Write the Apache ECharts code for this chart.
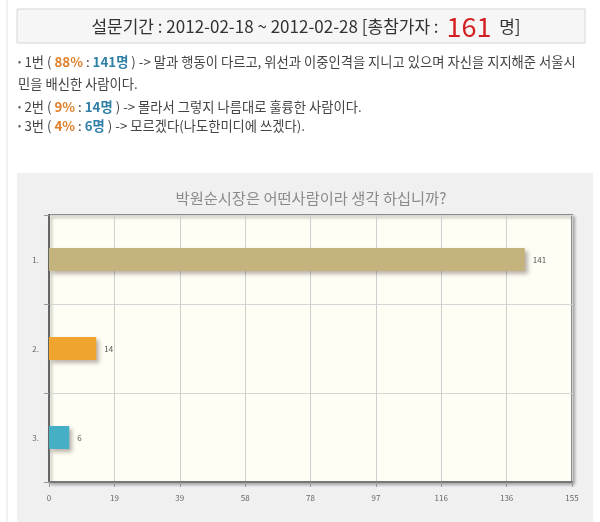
<!DOCTYPE html>
<html>
<head>
<meta charset="utf-8">
<script src="https://cdn.jsdelivr.net/npm/echarts@6/dist/echarts.min.js"></script>
<style>
  html, body { margin: 0; padding: 0; background: #fff; }
  #main { width: 600px; height: 522px; }
</style>
</head>
<body>
<div id="main"></div>
<script>
// 설문 데이터
const categories = ['1.', '2.', '3.'];
const votes = [141, 14, 6];
const percents = ['88%', '9%', '4%'];
const answers = [
  '말과 행동이 다르고, 위선과 이중인격을 지니고 있으며 자신을 지지해준 서울시\n민을 배신한 사람이다.',
  '몰라서 그렇지 나름대로 훌륭한 사람이다.',
  '모르겠다(나도한미디에 쓰겠다).'
];
const barColors = ['#c4b37c', '#efa42e', '#45afc6'];
const axisMax = 155;
const tickCount = 8;
const totalCount = 161;
const period = ['2012-02-18', '2012-02-28'];
const chartTitle = '박원순시장은 어떤사람이라 생각 하십니까?';

const FONT = '"Noto Sans CJK KR", "Noto Sans", sans-serif';

const chart = echarts.init(document.getElementById('main'));

// 상단 설명 텍스트
const bulletTexts = [];
const bulletY = [66, 111, 130];
const fs = 13.3;
for (let i = 0; i < votes.length; i++) {
  bulletTexts.push({
    type: 'text',
    left: 18,
    top: bulletY[i] - 11,
    style: {
      text: '{d|•} {t|' + (i + 1) + '번 ( }{p|' + percents[i] + '}{t| : }{n|' + votes[i] + '명}{t| ) -> ' +
        answers[i].replace('\n', '}\n{t|') + '}',
      rich: {
        d: { fontSize: 9, fill: '#555', fontFamily: FONT, lineHeight: 22 },
        t: { fontSize: fs, fill: '#444', fontFamily: FONT, lineHeight: 22 },
        p: { fontSize: fs, fill: '#e0802a', fontWeight: 'bold', fontFamily: FONT, lineHeight: 22 },
        n: { fontSize: fs, fill: '#2f7fa6', fontWeight: 'bold', fontFamily: FONT, lineHeight: 22 }
      }
    }
  });
}

chart.setOption({
  animation: false,
  backgroundColor: '#fff',
  title: {
    text: chartTitle,
    left: 306,
    top: 186,
    textAlign: 'center',
    textStyle: { fontSize: 15.3, fontWeight: 'normal', color: '#8a8a8a', fontFamily: FONT }
  },
  graphic: [
    { type: 'line', shape: { x1: 7, y1: 0, x2: 7, y2: 522 }, style: { stroke: '#e2e2e2', lineWidth: 1 }, silent: true },
    { type: 'rect', shape: { x: 17, y: 9, width: 568, height: 34 }, style: { fill: '#f6f6f6', stroke: '#d6d6d6', lineWidth: 1 }, silent: true },
    {
      type: 'text',
      x: 306,
      y: 27,
      style: {
        text: '{a|설문기간 : ' + period[0] + ' ~ ' + period[1] + ' [총참가자 : }{r|' + totalCount + '}{a| 명]}',
        align: 'center',
        verticalAlign: 'middle',
        rich: {
          a: { fontSize: 17, fill: '#333', fontFamily: FONT },
          r: { fontSize: 27, fill: '#d42020', fontFamily: FONT, padding: [0, 4, 0, 4] }
        }
      },
      silent: true
    },
    ...bulletTexts,
    { type: 'rect', z: -10, shape: { x: 17, y: 173, width: 576, height: 360 }, style: { fill: '#f0f0f0' }, silent: true }
  ],
  grid: {
    left: 49,
    top: 215,
    width: 523,
    height: 267,
    show: true,
    backgroundColor: '#fffef4',
    borderColor: '#8c8c8c',
    borderWidth: 2,
    shadowColor: 'rgba(0,0,0,0.25)',
    shadowBlur: 3,
    shadowOffsetX: 2,
    shadowOffsetY: 2
  },
  xAxis: {
    type: 'value',
    min: 0,
    max: axisMax,
    interval: axisMax / tickCount,
    axisLine: { show: true, lineStyle: { color: '#777', width: 2 } },
    axisTick: { show: true, length: 5, lineStyle: { color: '#999' } },
    axisLabel: {
      fontSize: 8,
      color: '#666',
      margin: 12,
      fontFamily: FONT,
      formatter: v => String(Math.round(v))
    },
    splitLine: { show: true, lineStyle: { color: '#cfcfcf', width: 1 } }
  },
  yAxis: {
    type: 'category',
    inverse: true,
    data: categories,
    axisLine: { show: true, lineStyle: { color: '#666', width: 2 } },
    axisTick: { show: true, length: 5, lineStyle: { color: '#999' } },
    axisLabel: { fontSize: 8, color: '#666', margin: 10, fontFamily: FONT },
    splitLine: { show: true, lineStyle: { color: '#d6d6d6', width: 1 } }
  },
  series: [{
    type: 'bar',
    barWidth: 23,
    data: votes.map((v, i) => ({
      value: v,
      itemStyle: { color: barColors[i] }
    })),
    itemStyle: {
      shadowColor: 'rgba(60,40,40,0.35)',
      shadowBlur: 4,
      shadowOffsetX: 3,
      shadowOffsetY: 3
    },
    label: {
      show: true,
      position: 'right',
      distance: 8,
      fontSize: 8,
      color: '#555',
      fontFamily: FONT
    }
  }]
});
</script>
</body>
</html>
